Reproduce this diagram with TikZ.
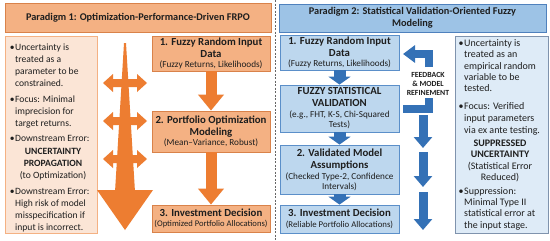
\documentclass[tikz,border=0pt]{standalone}
\usepackage{fontspec}
\setmainfont{Carlito}
\usetikzlibrary{arrows.meta}
\definecolor{ofill}{HTML}{F4B183}
\definecolor{oborder}{HTML}{D9824A}
\definecolor{olight}{HTML}{FBE5D6}
\definecolor{oarr}{HTML}{ED7D31}
\definecolor{btfill}{HTML}{9DC3E6}
\definecolor{btborder}{HTML}{4F81BD}
\definecolor{bbfill}{HTML}{BDD7EE}
\definecolor{bbborder}{HTML}{5B8FC9}
\definecolor{blight}{HTML}{DEEBF7}
\definecolor{bgray}{HTML}{7F93AD}
\definecolor{barr}{HTML}{3471B6}
\definecolor{txt}{HTML}{1E1E1E}
\newcommand{\mybul}{\llap{\textbullet\hspace{0.6pt}}}
\begin{document}
\begin{tikzpicture}[x=1pt,y=-1pt,
  every node/.style={text=txt, inner sep=0pt},
  otitle/.style={fill=ofill, draw=oborder, line width=0.8pt},
  obox/.style={fill=ofill, draw=oborder, line width=0.8pt, align=center, minimum width=118pt},
  otextbox/.style={fill=olight, draw=ofill, line width=0.8pt},
  btitle/.style={fill=btfill, draw=btborder, line width=0.8pt, align=center},
  bbox/.style={fill=bbfill, draw=bbborder, line width=0.8pt, align=center, minimum width=119pt},
  btextbox/.style={fill=blight, draw=bgray, line width=0.9pt},
  boxfont/.style={font=\fontsize{10.8}{12}\selectfont\bfseries},
  small/.style={},
  ltxt/.style={anchor=base west, font=\fontsize{9.6}{12}\selectfont},
  lctr/.style={anchor=base, font=\fontsize{9.6}{12}\selectfont},
  rtxt/.style={anchor=base west, font=\fontsize{10}{12}\selectfont},
  rctr/.style={anchor=base, font=\fontsize{10}{12}\selectfont},
  oarrow/.style={draw=oarr, line width=11pt, -{Triangle[width=25pt,length=16pt]}},
  barrow/.style={draw=barr, line width=12pt, -{Triangle[width=22pt,length=8pt]}},
  bdown/.style={draw=barr, line width=9pt, -{Triangle[width=18pt,length=11pt]}},
  fb/.style={draw=barr, line width=8pt, line join=miter}
]
\newcommand{\sm}{\fontsize{9.2}{10}\selectfont\mdseries}
\useasboundingbox (0,0) rectangle (550,241);
\fill[white] (0,0) rectangle (550,241);

% divider
\draw[dashed, dash pattern=on 2pt off 1.5pt, black!60, line width=0.7pt] (275,0) -- (275,241);

% ---------- Paradigm 1 ----------
\node[otitle, minimum width=266pt, minimum height=29pt, font=\fontsize{10.3}{12}\selectfont\bfseries] (T1) at (138,17.5) {Paradigm 1: Optimization-Performance-Driven FRPO};
\node[otextbox, minimum width=92pt, minimum height=197pt] (LT) at (51,134.5) {};

\foreach \y/\t [count=\i] in {47/{\mybul Uncertainty is}, 59/{treated as a}, 71/{parameter to be}, 83/{constrained.},
  99/{\mybul Focus: Minimal}, 111/{imprecision for}, 123/{target returns.}, 138/{\mybul Downstream Error:},
  191/{\mybul Downstream Error:}, 203/{High risk of model}, 215/{misspecification if}, 227/{input is incorrect.}}
  \node[ltxt] (lt\i) at (15,\y+3.4) {\t};
\node[lctr, font=\fontsize{9.6}{12}\selectfont\bfseries] (lc1) at (53,151+3.4) {UNCERTAINTY};
\node[lctr, font=\fontsize{9.6}{12}\selectfont\bfseries] (lc2) at (53,163+3.4) {PROPAGATION};
\node[lctr] (lc3) at (53,175+3.4) {(to Optimization)};

% big orange arrow
\fill[oarr] (124,43) -- (126,43) -- (135,192) -- (115,192) -- cycle;
\fill[oarr] (97,190) -- (153,190) -- (125,230) -- cycle;
\foreach \c in {83,121,159}{
  \fill[oarr] (103,\c) -- (113,\c-9) -- (113,\c-4) -- (137,\c-4) -- (137,\c-9) -- (147,\c)
     -- (137,\c+9) -- (137,\c+4) -- (113,\c+4) -- (113,\c+9) -- cycle;
}

\node[obox, minimum height=35pt, boxfont] (L1) at (211,53.5) {1. Fuzzy Random Input\\Data\\[-1.5pt]{\sm (Fuzzy Returns, Likelihoods)}};
\node[obox, minimum height=41pt, boxfont] (L2) at (211,131.5) {2. Portfolio Optimization\\Modeling\\[-1.5pt]{\sm (Mean–Variance, Robust)}};
\node[obox, minimum height=27pt, boxfont] (L3) at (211,218.5) {3. Investment Decision\\[-1.5pt]{\fontsize{8.6}{10}\selectfont\mdseries (Optimized Portfolio Allocations)}};

\draw[oarrow] (L1.south) -- (L2.north);
\draw[oarrow] (L2.south) -- (L3.north);

% ---------- Paradigm 2 ----------
\node[btitle, minimum width=267pt, minimum height=28pt, font=\fontsize{10.3}{11.5}\selectfont\bfseries] (T2) at (412.5,18) {Paradigm 2: Statistical Validation-Oriented Fuzzy\\Modeling};

\node[bbox, minimum height=35pt, boxfont] (R1) at (339.5,52.5) {1. Fuzzy Random Input\\Data\\[-1.5pt]{\sm (Fuzzy Returns, Likelihoods)}};
\node[bbox, minimum height=47pt, boxfont] (RV) at (339.5,108.5) {FUZZY STATISTICAL\\VALIDATION\\[-1pt]{\sm (e.g., FHT, K-S, Chi-Squared}\\[-2pt]{\sm Tests)}};
\node[bbox, minimum height=49pt, boxfont] (R2) at (339.5,169.5) {2. Validated Model\\Assumptions\\[-1pt]{\sm (Checked Type-2, Confidence}\\[-2pt]{\sm Intervals)}};
\node[bbox, minimum height=28pt, boxfont] (R3) at (339.5,219) {3. Investment Decision\\[-1.5pt]{\fontsize{8.8}{10}\selectfont\mdseries (Reliable Portfolio Allocations)}};

\draw[barrow] (R1.south) -- (RV.north);
\draw[barrow] (RV.south) -- (R2.north);
\draw[barrow] (R2.south) -- (R3.north);

% feedback
\coordinate (fb1) at (403,108.5);
\coordinate (fb2) at (429,98);
\coordinate (fb3) at (429,67);
\coordinate (fb4) at (403,54);
\draw[fb] (fb1) -| (fb2);
\draw[fb, -{Triangle[width=17pt,length=12pt]}] (fb3) |- (fb4);
\node[align=center, font=\fontsize{7.8}{8.8}\selectfont\bfseries] (FB) at (428,84) {FEEDBACK\\\& MODEL\\REFINEMENT};

% right column down arrows
\coordinate (d1a) at (423,115); \coordinate (d1b) at (423,148);
\coordinate (d2a) at (423,152); \coordinate (d2b) at (423,187);
\coordinate (d3a) at (423,192); \coordinate (d3b) at (423,230);
\draw[bdown] (d1a) -- (d1b);
\draw[bdown] (d2a) -- (d2b);
\draw[bdown] (d3a) -- (d3b);

% right text box
\node[btextbox, minimum width=93pt, minimum height=197pt] (RT) at (501.5,134.5) {};
\foreach \y/\t [count=\i] in {43/{\mybul Uncertainty is}, 54/{treated as an}, 66/{empirical random}, 77/{variable to be}, 88/{tested.},
  106/{\mybul Focus: Verified}, 118/{input parameters}, 130/{via ex ante testing.},
  191/{\mybul Suppression:}, 202/{Minimal Type II}, 213/{statistical error at}, 225/{the input stage.}}
  \node[rtxt] (rt\i) at (464,\y+3.4) {\t};
\node[rctr, font=\fontsize{10}{12}\selectfont\bfseries] (rc1) at (500,143+3.4) {SUPPRESSED};
\node[rctr, font=\fontsize{10}{12}\selectfont\bfseries] (rc2) at (500,154+3.4) {UNCERTAINTY};
\node[rctr] (rc3) at (500,166+3.4) {(Statistical Error};
\node[rctr] (rc4) at (500,177+3.4) {Reduced)};
\end{tikzpicture}
\end{document}
